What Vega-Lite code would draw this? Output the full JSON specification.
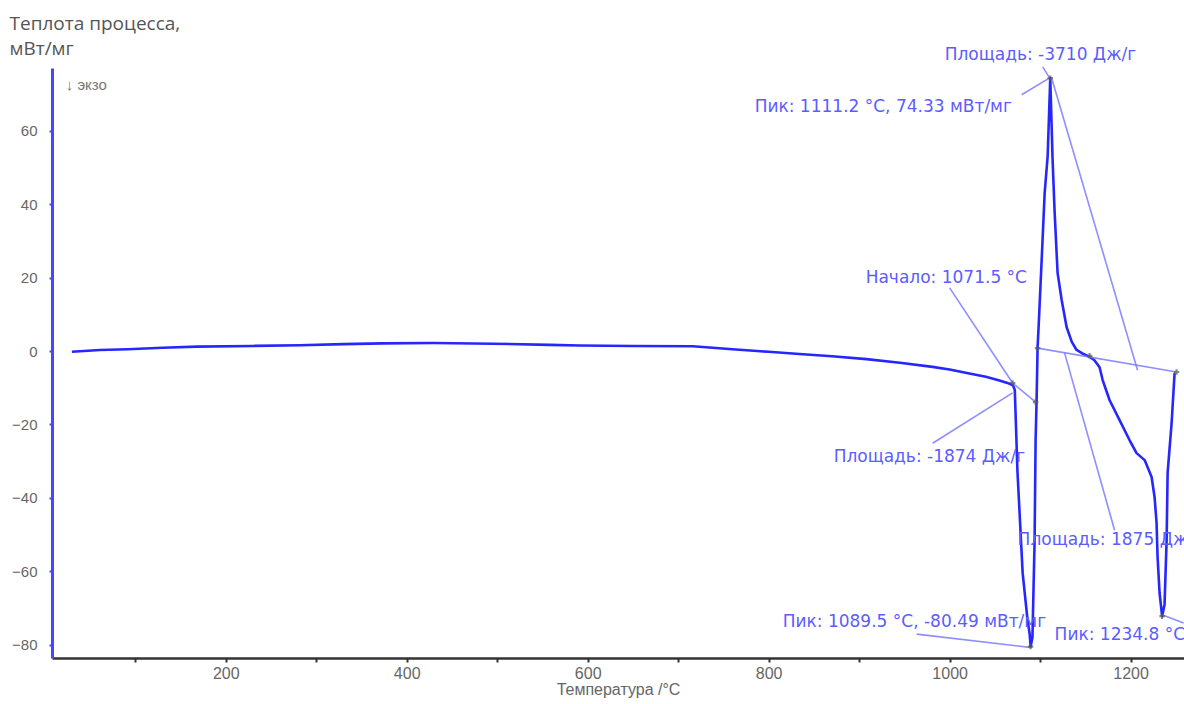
{
  "$schema": "https://vega.github.io/schema/vega-lite/v6.json",
  "width": 1132,
  "height": 590,
  "autosize": {"type": "none"},
  "padding": {"left": 52, "top": 68, "right": 0, "bottom": 46},
  "background": "white",
  "config": {"view": {"stroke": null}, "font": "Liberation Sans"},
  "datasets": {
    "curve": [
      {"i": 1, "T": 30, "V": -0.2}, {"i": 2, "T": 61, "V": 0.3}, {"i": 3, "T": 92, "V": 0.5},
      {"i": 4, "T": 130, "V": 0.9}, {"i": 5, "T": 168, "V": 1.2}, {"i": 6, "T": 230, "V": 1.4},
      {"i": 7, "T": 282, "V": 1.6}, {"i": 8, "T": 330, "V": 1.9}, {"i": 9, "T": 373, "V": 2.1},
      {"i": 10, "T": 430, "V": 2.2}, {"i": 11, "T": 495, "V": 2.0}, {"i": 12, "T": 558, "V": 1.7},
      {"i": 13, "T": 591, "V": 1.5}, {"i": 14, "T": 650, "V": 1.4}, {"i": 15, "T": 716, "V": 1.3},
      {"i": 16, "T": 760, "V": 0.5}, {"i": 17, "T": 800, "V": -0.2}, {"i": 18, "T": 834, "V": -0.8},
      {"i": 19, "T": 870, "V": -1.4}, {"i": 20, "T": 908, "V": -2.2}, {"i": 21, "T": 945, "V": -3.2},
      {"i": 22, "T": 981, "V": -4.3}, {"i": 23, "T": 1000, "V": -5.0}, {"i": 24, "T": 1019, "V": -6.0},
      {"i": 25, "T": 1040, "V": -7.0}, {"i": 26, "T": 1055, "V": -8.0}, {"i": 27, "T": 1063, "V": -8.6},
      {"i": 28, "T": 1070, "V": -9.3}, {"i": 29, "T": 1072, "V": -10.6}, {"i": 30, "T": 1075, "V": -33},
      {"i": 31, "T": 1080.7, "V": -60.5}, {"i": 32, "T": 1086, "V": -73}, {"i": 33, "T": 1088.4, "V": -77},
      {"i": 34, "T": 1089.5, "V": -80.49}, {"i": 35, "T": 1091.5, "V": -78}, {"i": 36, "T": 1093.9, "V": -51.5},
      {"i": 37, "T": 1095, "V": -24.3}, {"i": 38, "T": 1096.1, "V": -13.4}, {"i": 39, "T": 1097.2, "V": 1.0},
      {"i": 40, "T": 1098.3, "V": 6.5}, {"i": 41, "T": 1101.7, "V": 24.8}, {"i": 42, "T": 1105, "V": 43},
      {"i": 43, "T": 1108.3, "V": 53}, {"i": 44, "T": 1111.2, "V": 74.33}, {"i": 45, "T": 1113.8, "V": 52},
      {"i": 46, "T": 1116, "V": 38}, {"i": 47, "T": 1119.3, "V": 21.3}, {"i": 48, "T": 1123.8, "V": 13.9},
      {"i": 49, "T": 1129.3, "V": 6.5}, {"i": 50, "T": 1135, "V": 2.5}, {"i": 51, "T": 1140.3, "V": 0.3},
      {"i": 52, "T": 1148, "V": -0.8}, {"i": 53, "T": 1154.7, "V": -1.6}, {"i": 54, "T": 1160, "V": -2.5},
      {"i": 55, "T": 1165.7, "V": -4.4}, {"i": 56, "T": 1169.1, "V": -7.9}, {"i": 57, "T": 1176.8, "V": -13.4},
      {"i": 58, "T": 1187.8, "V": -18.8}, {"i": 59, "T": 1198.9, "V": -24.3}, {"i": 60, "T": 1206.6, "V": -27.8},
      {"i": 61, "T": 1215.5, "V": -29.7}, {"i": 62, "T": 1223.2, "V": -34.3}, {"i": 63, "T": 1226.5, "V": -39.8},
      {"i": 64, "T": 1228.7, "V": -46.9}, {"i": 65, "T": 1229.8, "V": -56.1}, {"i": 66, "T": 1232, "V": -65.9},
      {"i": 67, "T": 1234.8, "V": -72.2}, {"i": 68, "T": 1237.5, "V": -69}, {"i": 69, "T": 1239.8, "V": -51.5},
      {"i": 70, "T": 1240.9, "V": -33.2}, {"i": 71, "T": 1245.3, "V": -19.6}, {"i": 72, "T": 1248.6, "V": -6.0}
    ],
    "segs": [
      {"T": 1000, "V": 17.2, "T2": 1069.6, "V2": -8.7},
      {"T": 1069.6, "V": -8.7, "T2": 1095, "V2": -13.9},
      {"T": 981.2, "V": -25.1, "T2": 1069.6, "V2": -11.4},
      {"T": 963.5, "V": -77.1, "T2": 1088.4, "V2": -80.7},
      {"T": 1097.2, "V": 0.8, "T2": 1250.8, "V2": -5.7},
      {"T": 1112.7, "V": 74.4, "T2": 1207.7, "V2": -5.2},
      {"T": 1102.8, "V": 77.4, "T2": 1110.5, "V2": 74.4},
      {"T": 1079.6, "V": 69.8, "T2": 1110.5, "V2": 74.4},
      {"T": 1127, "V": -0.5, "T2": 1182.3, "V2": -48.8},
      {"T": 1235.4, "V": -71.9, "T2": 1258.6, "V2": -74.1}
    ],
    "notes": [
      {"T": 994.5, "V": 80.7, "label": "Площадь: -3710 Дж/г"},
      {"T": 784.5, "V": 66.5, "label": "Пик: 1111.2 °C, 74.33 мВт/мг"},
      {"T": 907.2, "V": 19.9, "label": "Начало: 1071.5 °C"},
      {"T": 871.8, "V": -28.9, "label": "Площадь: -1874 Дж/г"},
      {"T": 1075.1, "V": -51.5, "label": "Площадь: 1875 Дж/г"},
      {"T": 815.5, "V": -73.8, "label": "Пик: 1089.5 °C, -80.49 мВт/мг"},
      {"T": 1116, "V": -77.4, "label": "Пик: 1234.8 °C"}
    ],
    "marks": [
      {"T": 1069.6, "V": -8.7}, {"T": 1095, "V": -13.9}, {"T": 1089.5, "V": -80.49},
      {"T": 1097.2, "V": 0.8}, {"T": 1111.2, "V": 74.33}, {"T": 1154.7, "V": -1.3},
      {"T": 1250.8, "V": -5.7}, {"T": 1234.8, "V": -72.2}
    ],
    "exo": [{"T": 23.2, "V": 72.5, "label": "↓ экзо"}]
  },
  "layer": [
    {
      "data": {"name": "curve"},
      "mark": {"type": "line", "color": "#2626ff", "strokeWidth": 2.6, "interpolate": "linear", "strokeJoin": "round"},
      "encoding": {
        "x": {
          "field": "T", "type": "quantitative",
          "scale": {"domain": [8, 1259], "nice": false, "zero": false},
          "axis": {
            "title": "Температура /°C",
            "values": [100, 200, 300, 400, 500, 600, 700, 800, 900, 1000, 1100, 1200],
            "format": "d",
            "labelExpr": "datum.value % 200 == 0 ? datum.label : ''",
            "grid": false, "domainColor": "#333333", "domainWidth": 2.5,
            "tickColor": "#333333", "tickSize": 4, "tickWidth": 2,
            "labelColor": "#666666", "labelFontSize": 16, "labelFont": "Liberation Sans", "labelPadding": 3,
            "titleColor": "#666666", "titleFontSize": 16, "titleFont": "Liberation Sans", "titleFontWeight": "normal", "titlePadding": 0
          }
        },
        "y": {
          "field": "V", "type": "quantitative",
          "scale": {"domain": [-83.6, 77.1], "nice": false, "zero": false},
          "axis": {
            "title": ["Теплота процесса,", "мВт/мг"],
            "values": [-80, -70, -60, -50, -40, -30, -20, -10, 0, 10, 20, 30, 40, 50, 60, 70],
            "labelExpr": "datum.value % 20 == 0 ? datum.label : ''",
            "grid": false, "domainColor": "#4646ff", "domainWidth": 3,
            "tickColor": "#4646ff", "tickSize": 3, "tickWidth": 2,
            "labelColor": "#666666", "labelFontSize": 15, "labelFont": "Liberation Sans", "labelPadding": 12,
            "titleAngle": 0, "titleAlign": "left", "titleBaseline": "top", "titleX": -43, "titleY": -54,
            "titleColor": "#555555", "titleFontSize": 19, "titleFont": "Open Sans", "titleFontWeight": "normal", "titleLineHeight": 25
          }
        },
        "order": {"field": "i", "type": "quantitative"}
      }
    },
    {
      "data": {"name": "segs"},
      "mark": {"type": "rule", "color": "#7a7aff", "strokeWidth": 1.6, "opacity": 0.85},
      "encoding": {
        "x": {"field": "T", "type": "quantitative"},
        "y": {"field": "V", "type": "quantitative"},
        "x2": {"field": "T2"},
        "y2": {"field": "V2"}
      }
    },
    {
      "data": {"name": "marks"},
      "mark": {"type": "point", "shape": "cross", "color": "#555555", "size": 30, "filled": true, "opacity": 0.7},
      "encoding": {
        "x": {"field": "T", "type": "quantitative"},
        "y": {"field": "V", "type": "quantitative"}
      }
    },
    {
      "data": {"name": "notes"},
      "mark": {"type": "text", "align": "left", "baseline": "middle", "color": "#5c5cff", "fontSize": 17, "font": "DejaVu Sans"},
      "encoding": {
        "x": {"field": "T", "type": "quantitative"},
        "y": {"field": "V", "type": "quantitative"},
        "text": {"field": "label"}
      }
    },
    {
      "data": {"name": "exo"},
      "mark": {"type": "text", "align": "left", "baseline": "middle", "color": "#777777", "fontSize": 15, "font": "Liberation Sans"},
      "encoding": {
        "x": {"field": "T", "type": "quantitative"},
        "y": {"field": "V", "type": "quantitative"},
        "text": {"field": "label"}
      }
    }
  ]
}
